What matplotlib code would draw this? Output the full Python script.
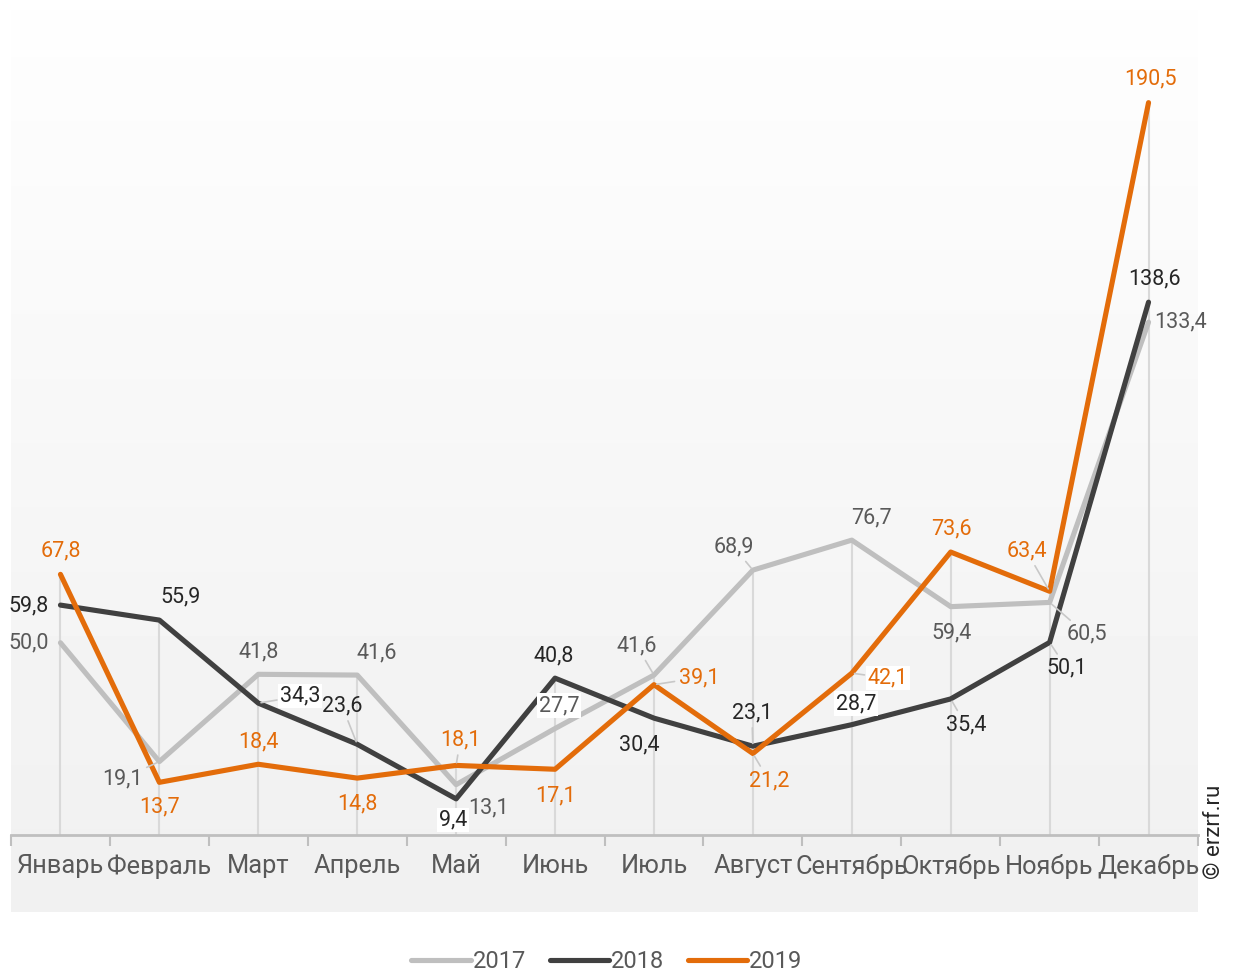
import numpy as np
import matplotlib.pyplot as plt

plt.rcParams['font.family'] = ['Roboto', 'DejaVu Sans']

months = ['Январь', 'Февраль', 'Март', 'Апрель', 'Май', 'Июнь', 'Июль',
          'Август', 'Сентябрь', 'Октябрь', 'Ноябрь', 'Декабрь']
v2017 = [50.0, 19.1, 41.8, 41.6, 13.1, 27.7, 41.6, 68.9, 76.7, 59.4, 60.5, 133.4]
v2018 = [59.8, 55.9, 34.3, 23.6, 9.4, 40.8, 30.4, 23.1, 28.7, 35.4, 50.1, 138.6]
v2019 = [67.8, 13.7, 18.4, 14.8, 18.1, 17.1, 39.1, 21.2, 42.1, 73.6, 63.4, 190.5]

# label offsets in pixels (dx, dy), leader line flag, white box flag
off2017 = [(-32, 0), (-37, -17), (0, 22), (20, 22), (32, -23), (4, 23),
           (-17, 29), (-19, 23), (20, 22), (1, -26), (37, -32), (32, 0)]
lead2017 = [0, 1, 0, 0, 0, 0, 1, 1, 0, 0, 1, 0]
box2017 = [0, 0, 0, 0, 0, 1, 0, 0, 0, 0, 0, 0]
off2018 = [(-32, -1), (21, 23), (42, 7), (-15, 38), (-3, -21), (-1, 22),
           (-15, -27), (-1, 33), (4, 21), (15, -26), (17, -26), (6, 23)]
lead2018 = [0, 0, 1, 1, 0, 0, 0, 1, 0, 1, 1, 0]
box2018 = [0, 0, 1, 0, 1, 0, 0, 0, 1, 0, 0, 0]
off2019 = [(0, 23), (0, -25), (0, 22), (0, -26), (4, 25), (0, -27),
           (45, 7), (16, -27), (36, -5), (1, 23), (-23, 40), (2, 24)]
lead2019 = [0, 0, 0, 0, 1, 0, 1, 1, 1, 0, 1, 0]
box2019 = [0, 0, 0, 0, 0, 0, 0, 0, 1, 0, 0, 0]

series = [
    ('2017', v2017, '#bfbfbf', '#595959', off2017, lead2017, box2017),
    ('2018', v2018, '#404040', '#262626', off2018, lead2018, box2018),
    ('2019', v2019, '#e36c0a', '#e36c0a', off2019, lead2019, box2019),
]

W, H = 1237, 977
fig = plt.figure(figsize=(W / 100, H / 100), dpi=100)

# background panel with vertical gradient
bg = fig.add_axes([11 / W, 1 - 912 / H, (1198 - 11) / W, (912 - 10) / H])
grad = np.concatenate([np.linspace(0.995, 0.945, 825), np.full(77, 0.945)])
bg.imshow(grad[:, None], aspect='auto', cmap='gray', vmin=0, vmax=1,
          extent=[0, 1, 0, 1])
bg.set_axis_off()

ax = fig.add_axes([11 / W, 1 - 835 / H, (1198 - 11) / W, (835 - 10) / H])
ax.patch.set_alpha(0)
x = np.arange(len(months))
ax.set_xlim(-0.5, len(months) - 0.5)
ax.set_ylim(0, 214.6)

tops = np.max([v2017, v2018, v2019], axis=0)
ax.vlines(x, 0, tops, color='#d9d9d9', lw=1.5, zorder=1)

for name, vals, col, tcol, offs, leads, boxes in series:
    ax.plot(x, vals, color=col, lw=3.7, solid_joinstyle='round',
            solid_capstyle='round', label=name, zorder=3)
    for xi, v, (dx, dy), ld, bx in zip(x, vals, offs, leads, boxes):
        kw = {}
        if ld:
            kw['arrowprops'] = dict(arrowstyle='-', color='#c8c8c8', lw=1.2,
                                    shrinkA=1, shrinkB=2)
        if bx:
            kw['bbox'] = dict(boxstyle='square,pad=0.08', fc='white', ec='none')
        ax.annotate(f'{v:.1f}'.replace('.', ','), (xi, v), xytext=(dx, dy),
                    textcoords='offset pixels', ha='center', va='center',
                    fontsize=15.5, color=tcol, zorder=5, **kw)

for s in ['top', 'right', 'left']:
    ax.spines[s].set_visible(False)
ax.spines['bottom'].set_color('#bfbfbf')
ax.spines['bottom'].set_linewidth(2)
ax.set_yticks([])
ax.set_xticks(x)
ax.set_xticklabels(months, fontsize=18.3, color='#595959')
ax.tick_params(axis='x', which='major', length=0, pad=14)
ax.set_xticks(np.arange(-0.5, len(months)), minor=True)
ax.tick_params(axis='x', which='minor', length=8, width=1.5, color='#bfbfbf')

fig.text(1215 / W, 1 - 832 / H, '© erzrf.ru', rotation=90, ha='center',
         va='center', fontsize=16, color='#262626')

fig.legend(loc='center', bbox_to_anchor=(607 / W, 1 - 962 / H), ncol=3,
           frameon=False, fontsize=17, handlelength=2.5, handletextpad=0.1,
           columnspacing=1.0, labelcolor='#595959')

fig.savefig('out.png', dpi=100)
